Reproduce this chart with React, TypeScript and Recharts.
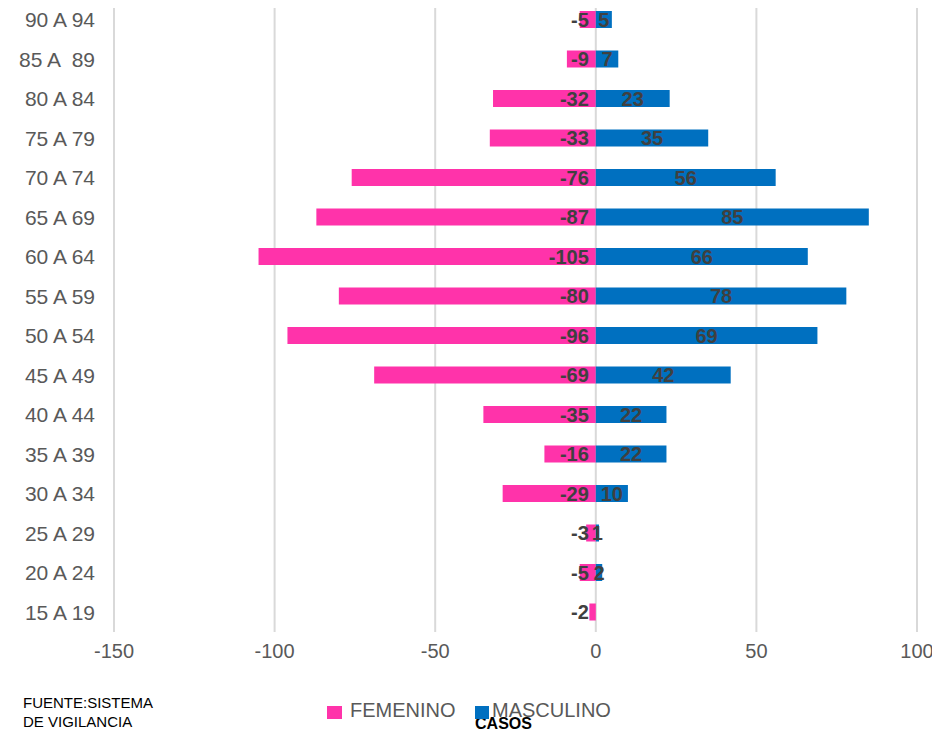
import { BarChart, Bar, XAxis, YAxis, CartesianGrid, Legend, LabelList } from "recharts";

// age groups, bottom to top
const ageGroups = [
  "15 A 19", "20 A 24", "25 A 29", "30 A 34", "35 A 39", "40 A 44", "45 A 49", "50 A 54",
  "55 A 59", "60 A 64", "65 A 69", "70 A 74", "75 A 79", "80 A 84", "85 A  89", "90 A 94",
];
const femenino = [-2, -5, -3, -29, -16, -35, -69, -96, -80, -105, -87, -76, -33, -32, -9, -5];
const masculino = [0, 2, 1, 10, 22, 22, 42, 69, 78, 66, 85, 56, 35, 23, 7, 5];
const xTicks = [-150, -100, -50, 0, 50, 100];

const PINK = "#FF33AA";
const BLUE = "#0070C0";
const FONT = "'Liberation Sans', Arial, sans-serif";

const data = ageGroups.map((g, i) => ({ grupo: g, femenino: femenino[i], masculino: masculino[i] }));

const labelStyle = { fontFamily: FONT, fontSize: 20, fontWeight: 700, fill: "#404040" };

const femLabel = (p: any) => {
  const { x, y, width, height, value } = p;
  if (!value) return null;
  const right = Math.max(Number(x), Number(x) + Number(width));
  return (
    <text x={right - 7} y={Number(y) + Number(height) / 2} textAnchor="end" dominantBaseline="central" style={labelStyle}>
      {value}
    </text>
  );
};

const mascLabel = (p: any) => {
  const { x, y, width, height, value } = p;
  if (!value) return null;
  return (
    <text x={Number(x) + Number(width) / 2} y={Number(y) + Number(height) / 2} textAnchor="middle" dominantBaseline="central" style={labelStyle}>
      {value}
    </text>
  );
};

// keeps the double space in "85 A  89"
const AgeTick = (p: any) => {
  const { x, y, payload } = p;
  return (
    <text
      x={x}
      y={y}
      textAnchor="end"
      dominantBaseline="central"
      xmlSpace="preserve"
      style={{ fontFamily: FONT, fontSize: 21, fill: "#595959", whiteSpace: "pre" }}
    >
      {payload.value}
    </text>
  );
};

const renderLegend = () => (
  <div style={{ position: "relative", height: 30, fontFamily: FONT, fontSize: 20, lineHeight: "24px", color: "#595959" }}>
    <span style={{ position: "absolute", left: 327, top: 6, width: 15, height: 13, background: PINK }} />
    <span style={{ position: "absolute", left: 350, top: -2 }}>FEMENINO</span>
    <span style={{ position: "absolute", left: 475, top: 6, width: 14, height: 13, background: BLUE }} />
    <span style={{ position: "absolute", left: 492, top: -2 }}>MASCULINO</span>
  </div>
);

export default function App() {
  return (
    <div style={{ position: "relative", width: 940, height: 731, margin: "-8px 0 0 -8px", background: "#fff" }}>
      <BarChart
        width={940}
        height={731}
        data={data}
        layout="vertical"
        stackOffset="sign"
        margin={{ top: 0, right: 23, left: 0, bottom: 29 }}
      >
        <CartesianGrid horizontal={false} stroke="#d9d9d9" strokeWidth={2} />
        <XAxis
          type="number"
          domain={[-150, 100]}
          ticks={xTicks}
          axisLine={false}
          tickLine={false}
          tickMargin={6}
          height={40}
          tick={{ fontFamily: FONT, fontSize: 20, fill: "#595959" }}
          label={{
            content: (props: any) => {
              const vb = props.viewBox || {};
              return (
                <text x={vb.x + vb.width / 2 - 12} y={729} textAnchor="middle" style={{ fontFamily: FONT, fontSize: 16, fontWeight: 700, fill: "#000" }}>
                  CASOS
                </text>
              );
            },
          }}
        />
        <YAxis
          type="category"
          dataKey="grupo"
          reversed
          width={114}
          axisLine={false}
          tickLine={false}
          tickMargin={13}
          tick={<AgeTick />}
        />
        <Legend
          content={renderLegend}
          wrapperStyle={{ position: "absolute", left: 0, top: 700, width: 940 }}
        />
        <Bar dataKey="femenino" name="FEMENINO" stackId="a" fill={PINK} barSize={17} isAnimationActive={false}>
          <LabelList dataKey="femenino" content={femLabel} />
        </Bar>
        <Bar dataKey="masculino" name="MASCULINO" stackId="a" fill={BLUE} barSize={17} isAnimationActive={false}>
          <LabelList dataKey="masculino" content={mascLabel} />
        </Bar>
      </BarChart>
      <div style={{ position: "absolute", left: 23, top: 693, fontFamily: FONT, fontSize: 15, lineHeight: "19px", color: "#000" }}>
        FUENTE:SISTEMA
        <br />
        DE VIGILANCIA
      </div>
    </div>
  );
}
